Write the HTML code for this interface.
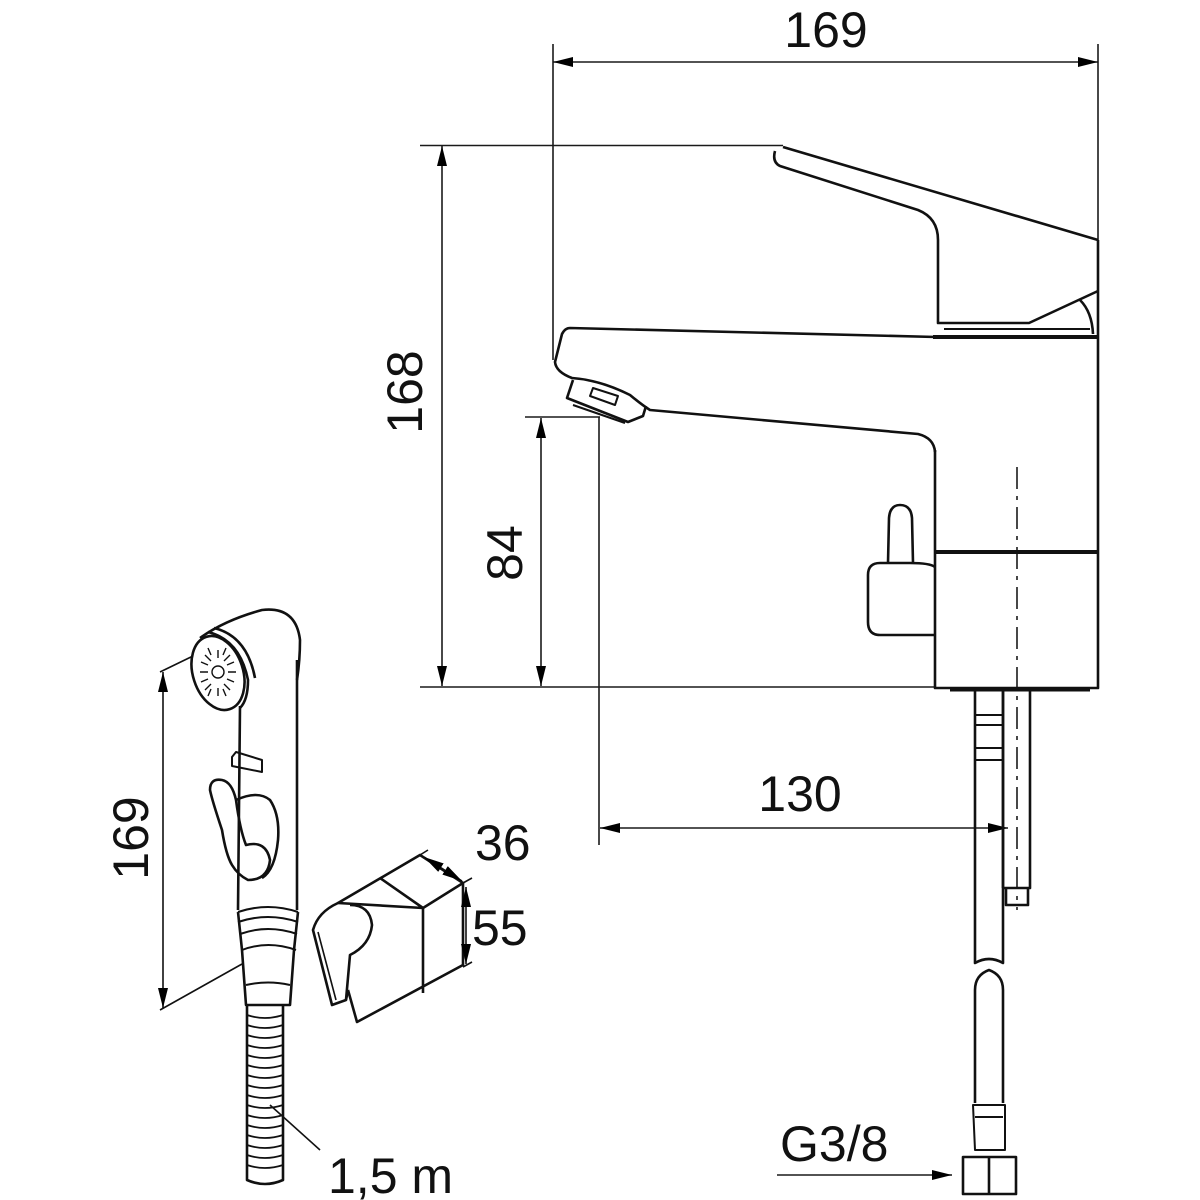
<!DOCTYPE html>
<html><head><style>html,body{margin:0;padding:0;background:#fff}svg{display:block}</style></head>
<body>
<svg width="1200" height="1200" viewBox="0 0 1200 1200" xmlns="http://www.w3.org/2000/svg">
<defs>
<marker id="a" viewBox="0 0 20 10" refX="20" refY="5" markerWidth="20" markerHeight="10" markerUnits="userSpaceOnUse" orient="auto-start-reverse"><path d="M0,0 L20,5 L0,10 Z" fill="#000"/></marker>
</defs>
<g fill="none" stroke="#1a1a1a" stroke-width="1.6">
<!-- dimension extension lines -->
<line x1="553" y1="44" x2="553" y2="360"/>
<line x1="1098" y1="44" x2="1098" y2="240"/>
<line x1="420" y1="145.5" x2="783" y2="145.5"/>
<line x1="420" y1="687" x2="936" y2="687"/>
<line x1="525" y1="417" x2="600" y2="417"/>
<line x1="599" y1="417" x2="599" y2="845"/>
<!-- dimension lines -->
<line x1="553" y1="62" x2="1098" y2="62" marker-start="url(#a)" marker-end="url(#a)"/>
<line x1="442" y1="146" x2="442" y2="686" marker-start="url(#a)" marker-end="url(#a)"/>
<line x1="541" y1="418" x2="541" y2="686" marker-start="url(#a)" marker-end="url(#a)"/>
<line x1="600" y1="828" x2="1008" y2="828" marker-start="url(#a)" marker-end="url(#a)"/>
<line x1="777" y1="1175" x2="952" y2="1175" marker-end="url(#a)"/>
<!-- center line -->
<line x1="1017" y1="467" x2="1017" y2="910" stroke-dasharray="22,7,4,7"/>
</g>
<g fill="none" stroke="#111" stroke-width="2.6" stroke-linejoin="round">
<!-- lever -->
<path d="M783,147 L1098,240 M775,151 Q772,162 780,166 L918,210 Q938,218 938,240 L938,323 L1029,323 L1098,291"/>
<path d="M1080,300 Q1092,312 1093,334"/>
<line x1="944" y1="329" x2="1090" y2="329" stroke-width="2"/>
<line x1="933" y1="337" x2="1098" y2="337" stroke-width="4"/>
<!-- body -->
<path d="M1098,240 L1098,688 L935,688 L935,450"/>
<line x1="935" y1="552" x2="1098" y2="552" stroke-width="4"/>
<!-- spout -->
<path d="M936,337 L570,328 Q565,328 562,334 L555,362 Q556,372 572,378 Q600,380 630,395 Q642,405 650,410 L918,434 Q934,438 935,452"/>
<path d="M573,380 L567,398 L628,422 L643,416 L646,406"/>
<path d="M573,405 L625,423" stroke-width="2"/>
<path d="M590,396 L593,388 L618,396 L615,405 Z" stroke-width="2"/>
<!-- knob -->
<path d="M888,563 L889,518 Q890,505 900,505 Q911,505 912,518 L913,563"/>
<path d="M935,567 Q930,563 910,563 L880,563 Q868,563 868,575 L868,622 Q868,635 880,635 L935,635"/>
<!-- bottom plate -->
<line x1="950" y1="690" x2="1090" y2="690" stroke-width="3"/>
<!-- pipes -->
<path d="M975,691 L975,963 Q989,955 1003,963 L1003,691"/>
<path d="M1003,691 L1003,888 M1030,691 L1030,888 L1003,888 M1006,888 L1006,905 L1028,905 L1028,888"/>
<path d="M975,715 L1003,715 M975,725 L1003,725 M975,748 L1003,748 M975,760 L1003,760" stroke-width="2"/>
<path d="M975,1103 L975,990 Q975,975 989,970 Q1003,975 1003,990 L1003,1103"/>
<path d="M973,1105 L1005,1105 L1005,1150 L975,1150 Z M975,1117 L1003,1117" stroke-width="2"/>
<path d="M963,1157 L1016,1157 L1016,1194 L963,1194 Z M989,1157 L989,1194"/>
<!-- shower head -->
<path d="M160,672 L193,656 M160,1010 L242,964" stroke-width="1.6"/>
<line x1="163" y1="672" x2="163" y2="1008" stroke-width="1.6" marker-start="url(#a)" marker-end="url(#a)"/>
<ellipse cx="218" cy="673" rx="25" ry="38" transform="rotate(-18 218 673)"/>
<path d="M200,638 Q225,620 262,610 Q296,606 300,640 Q300,660 297,680"/>
<path d="M208,632 Q240,640 248,680 Q248,700 240,708 M214,628 Q247,636 255,678"/>
<path d="M240,706 L238,910 M297,660 L297,910"/>
<g stroke-width="1.4">
<circle cx="218" cy="672" r="6"/>
<path d="M205,655 l6,6 M230,655 l-6,6 M205,690 l6,-6 M230,690 l-6,-6 M200,672 h8 M228,672 h8 M218,650 v8 M218,688 v8 M208,648 l3,7 M226,648 l-3,7 M208,696 l3,-7 M226,696 l-3,-7 M201,662 l7,3 M234,662 l-7,3 M201,682 l7,-3 M234,682 l-7,-3"/>
</g>
<!-- trigger -->
<path d="M232,757 L236,752 L262,760 L262,772 L232,766 Z" stroke-width="2"/>
<path d="M210,790 Q210,778 222,780 Q232,782 236,800 Q240,830 246,845 Q266,840 270,860 Q268,880 248,880 Q238,875 232,865 Q226,855 222,830 Q212,800 210,790 Z"/>
<path d="M236,800 Q258,790 270,800 Q280,815 278,840 Q275,870 262,878"/>
<path d="M238,912 Q268,902 298,912 M238,922 Q268,912 298,922 M240,934 Q268,924 297,934 M242,950 Q268,940 296,950" stroke-width="2"/>
<path d="M238,912 L242,950 L246,1005 L290,1005 L294,950 L298,912"/>
<path d="M246,985 Q268,980 290,985" stroke-width="2"/>
<!-- hose -->
<path d="M247,1005 L247,1180 Q265,1188 283,1180 L283,1005"/>
<path d="M247,1015 Q265,1021 283,1015 M247,1025 Q265,1031 283,1025 M247,1035 Q265,1041 283,1035 M247,1045 Q265,1051 283,1045 M247,1055 Q265,1061 283,1055 M247,1065 Q265,1071 283,1065 M247,1075 Q265,1081 283,1075 M247,1085 Q265,1091 283,1085 M247,1095 Q265,1101 283,1095 M247,1105 Q265,1111 283,1105 M247,1115 Q265,1121 283,1115 M247,1125 Q265,1131 283,1125 M247,1135 Q265,1141 283,1135 M247,1145 Q265,1151 283,1145 M247,1155 Q265,1161 283,1155 M247,1165 Q265,1171 283,1165" stroke-width="1.8"/>
<line x1="270" y1="1105" x2="320" y2="1150" stroke-width="1.6"/>
<!-- holder -->
<path d="M338,903 L420,855 L463,883 L423,908 Z"/>
<path d="M380,878 L423,908 M423,908 L423,993 M463,883 L463,965 L357,1022 L348,990"/>
<path d="M338,903 Q318,912 313,930 L332,1005 L346,1000 L348,990"/>
<path d="M350,905 Q370,905 372,925 Q370,945 350,955 L346,1000"/>
<path d="M318,932 L336,1000" stroke-width="1.6"/>
<path d="M420,855 L428,850 M463,883 L472,878 M463,967 L472,962" stroke-width="1.6"/>
<line x1="424" y1="857" x2="462" y2="881" stroke-width="1.6" marker-start="url(#a)" marker-end="url(#a)"/>
<line x1="466" y1="887" x2="466" y2="964" stroke-width="1.6" marker-start="url(#a)" marker-end="url(#a)"/>
</g>
<g font-family="Liberation Sans, sans-serif" font-size="50" fill="#111">
<text x="826" y="47" text-anchor="middle">169</text>
<text x="800" y="811" text-anchor="middle">130</text>
<text x="780" y="1161">G3/8</text>
<text x="475" y="860">36</text>
<text x="472" y="945">55</text>
<text x="328" y="1193">1,5 m</text>
<text transform="translate(422,392) rotate(-90)" text-anchor="middle">168</text>
<text transform="translate(522,553) rotate(-90)" text-anchor="middle">84</text>
<text transform="translate(148,838) rotate(-90)" text-anchor="middle">169</text>
</g>
</svg>
</body></html>
